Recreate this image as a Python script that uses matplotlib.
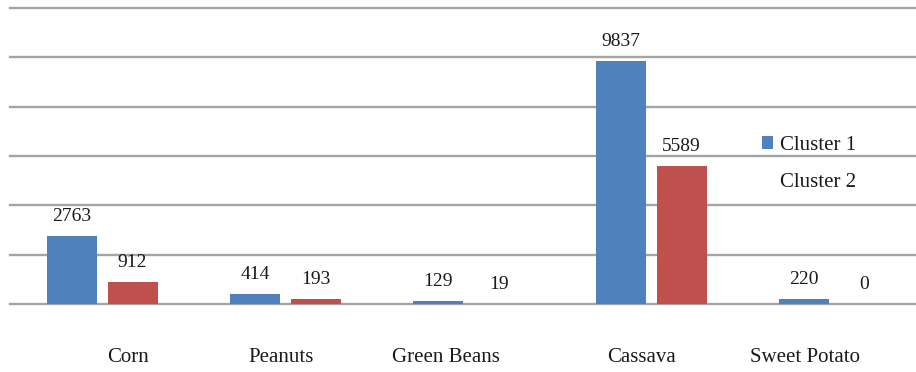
import numpy as np
import matplotlib.pyplot as plt
from matplotlib.patches import Patch

plt.rcParams["font.family"] = ["Liberation Serif", "DejaVu Serif"]

# Crop production per cluster
crops = ["Corn", "Peanuts", "Green Beans", "Cassava", "Sweet Potato"]
cluster1 = [2763, 414, 129, 9837, 220]
cluster2 = [912, 193, 19, 5589, 0]
label_shift = [0.14, -0.02, -0.12, -0.05, -0.16]

blue = "#4f81bd"
red = "#c0504d"
grid_color = "#a4a4a4"

fig = plt.figure(figsize=(9.16, 3.72), dpi=100)
ax = fig.add_axes([10 / 916, 68 / 372, 906 / 916, 296 / 372])

x = np.arange(len(crops))
w = 0.273
b1 = ax.bar(x - 0.164, cluster1, w, color=blue, zorder=3)
b2 = ax.bar(x + 0.167, cluster2, w, color=red, zorder=3)

for bars, vals in [(b1, cluster1), (b2, cluster2)]:
    for bar, v in zip(bars, vals):
        ax.annotate(str(v), (bar.get_x() + bar.get_width() / 2, v),
                    xytext=(0, 14), textcoords="offset points",
                    ha="center", va="center", fontsize=14, color="#1a1a1a")

ax.set_xlim(-0.503, 4.448)
ax.set_ylim(0, 12000)
ax.set_yticks(np.arange(0, 12001, 2000))
ax.yaxis.grid(True, color=grid_color, linewidth=1.7, zorder=0)
for gl in ax.yaxis.get_gridlines():
    gl.set_clip_on(False)
ax.tick_params(axis="y", left=False, labelleft=False)

ax.set_xticks(x + np.array(label_shift))
ax.set_xticklabels(crops, fontsize=15, color="#1a1a1a")
ax.tick_params(axis="x", length=0, pad=31.5)

for s in ax.spines.values():
    s.set_visible(False)

handles = [Patch(facecolor=blue), Patch(facecolor=red)]
leg = ax.legend(handles, ["Cluster 1", "Cluster 2"], loc="upper left",
                bbox_to_anchor=(762 / 916, 1 - 136 / 372),
                bbox_transform=fig.transFigure, frameon=False, fontsize=15,
                handlelength=0.55, handleheight=0.55, handletextpad=0.3,
                borderpad=0, borderaxespad=0, labelspacing=0.88)
leg.legend_handles[1].set_visible(False)
for t in leg.get_texts():
    t.set_color("#1a1a1a")

fig.savefig("out.png", dpi=100)
